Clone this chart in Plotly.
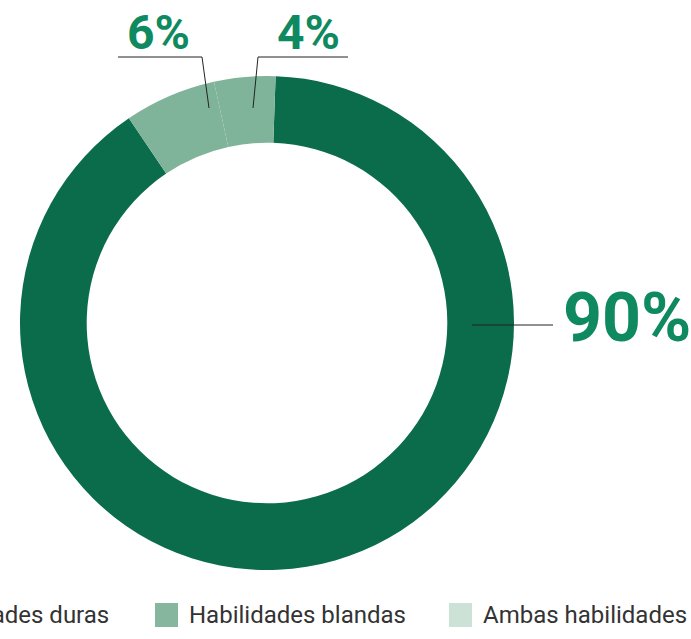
import plotly.graph_objects as go

# ---- data ----
categories = ["Habilidades duras", "Habilidades blandas", "Ambas habilidades"]
values = [90, 6, 4]
legend_colors = ["#0a6c4b", "#86b79e", "#cde2d6"]
slice_colors = ["#0a6c4b", "#80b49a", "#80b49a"]

W, H = 691, 639
def px(x):
    return x / W
def py(y):
    return 1 - y / H

fig = go.Figure()
fig.add_trace(go.Pie(
    labels=categories, values=values, sort=False, direction="clockwise",
    rotation=2, hole=0.73, textinfo="none", hoverinfo="label+percent",
    marker=dict(colors=slice_colors, line=dict(width=0)),
    domain=dict(x=[px(20), px(514)], y=[py(570), py(76)]),
    showlegend=False,
))

label_font = "Roboto, Liberation Sans, Arial, sans-serif"
green_txt = "#0f8a60"
ann = []
shapes = []

# value labels
ann.append(dict(text=f"<b>{values[1]}%</b>", x=px(158), y=py(32), xref="paper", yref="paper",
                showarrow=False, font=dict(size=48, color=green_txt, family=label_font),
                xanchor="center", yanchor="middle"))
ann.append(dict(text=f"<b>{values[2]}%</b>", x=px(308), y=py(32), xref="paper", yref="paper",
                showarrow=False, font=dict(size=48, color=green_txt, family=label_font),
                xanchor="center", yanchor="middle"))
ann.append(dict(text=f"<b>{values[0]}%</b>", x=px(561), y=py(318), xref="paper", yref="paper",
                showarrow=False, font=dict(size=68, color=green_txt, family=label_font),
                xanchor="left", yanchor="middle"))

line = dict(color="#222222", width=1)
shapes.append(dict(type="path", xref="paper", yref="paper",
                   path=f"M {px(118)} {py(57)} L {px(202)} {py(57)} L {px(209)} {py(108)}", line=line))
shapes.append(dict(type="path", xref="paper", yref="paper",
                   path=f"M {px(348)} {py(57)} L {px(258)} {py(57)} L {px(253)} {py(108)}", line=line))
shapes.append(dict(type="line", xref="paper", yref="paper",
                   x0=px(472), y0=py(325), x1=px(553), y1=py(325), line=line))

# manual legend (cut off on the left like the reference)
leg_font = "Roboto, sans-serif"
sq_left = [-120, 155, 449]
ty = 615
for i, cat in enumerate(categories):
    x0 = sq_left[i]
    shapes.append(dict(type="rect", xref="paper", yref="paper",
                       x0=px(x0), x1=px(x0 + 23), y0=py(603), y1=py(627),
                       fillcolor=legend_colors[i], line=dict(width=0)))
    if i == 0:
        ann.append(dict(text=cat, x=px(111), y=py(ty), xref="paper", yref="paper", showarrow=False,
                        xanchor="right", yanchor="middle",
                        font=dict(size=24, color="#333333", family=leg_font)))
    else:
        ann.append(dict(text=cat, x=px(x0 + 32), y=py(ty), xref="paper", yref="paper", showarrow=False,
                        xanchor="left", yanchor="middle",
                        font=dict(size=24, color="#333333", family=leg_font)))

fig.update_layout(
    width=W, height=H, margin=dict(l=0, r=0, t=0, b=0),
    paper_bgcolor="white", plot_bgcolor="white",
    annotations=ann, shapes=shapes, showlegend=False,
)

fig.write_html("out.html", config={"displayModeBar": False},
               post_script="document.body.style.margin='0';")
